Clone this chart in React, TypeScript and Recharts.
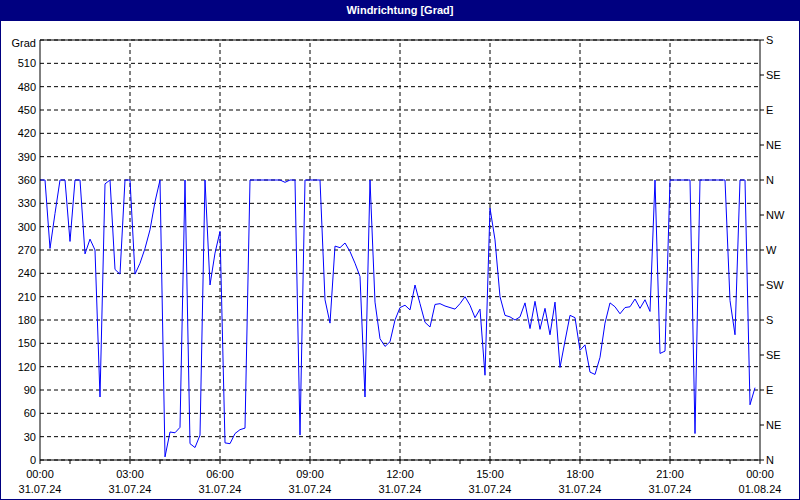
import { LineChart, Line, XAxis, YAxis, CartesianGrid, ReferenceLine } from 'recharts';

// Windrichtung, 10-Minuten-Werte ab 31.07.24 00:00
const windDir = [
  360, 360, 272, 317, 360, 360, 281, 360, 360, 265, 284, 270, 81, 355, 360, 245, 239, 360, 360, 239, 253, 272, 296, 332,
  360, 4, 36, 35, 42, 360, 21, 16, 32, 360, 225, 266, 294, 22, 21, 34, 39, 41, 360, 360, 360, 360, 360, 360,
  360, 357, 360, 360, 32, 360, 360, 360, 360, 206, 176, 275, 273, 279, 268, 253, 236, 81, 360, 203, 156, 146, 152, 180,
  196, 199, 193, 225, 201, 177, 171, 200, 201, 198, 196, 194, 201, 210, 199, 183, 194, 109, 324, 283, 210, 186, 184, 180,
  184, 202, 169, 204, 168, 195, 161, 203, 119, 153, 186, 183, 141, 148, 113, 110, 132, 176, 202, 197, 188, 196, 197, 207,
  195, 206, 191, 360, 137, 140, 360, 360, 360, 360, 360, 34, 360, 360, 360, 360, 360, 360, 205, 161, 360, 360, 71, 93,
];

const gradTicks = [0, 30, 60, 90, 120, 150, 180, 210, 240, 270, 300, 330, 360, 390, 420, 450, 480, 510, 540];
const compassTicks = [0, 45, 90, 135, 180, 225, 270, 315, 360, 405, 450, 495, 540];
const compassLabels = ['N', 'NE', 'E', 'SE', 'S', 'SW', 'W', 'NW', 'N', 'NE', 'E', 'SE', 'S'];

const hourTicks = [
  0, 60, 120, 180, 240, 300, 360, 420, 480, 540, 600, 660, 720, 780, 840, 900, 960, 1020, 1080, 1140, 1200, 1260,
  1320, 1380, 1440,
];
const gridMinutes = [180, 360, 540, 720, 900, 1080, 1260];
const timeLabels = ['00:00', '03:00', '06:00', '09:00', '12:00', '15:00', '18:00', '21:00', '00:00'];
const dateLabels = ['31.07.24', '31.07.24', '31.07.24', '31.07.24', '31.07.24', '31.07.24', '31.07.24', '31.07.24', '01.08.24'];

const FONT = '"Liberation Sans", Arial, sans-serif';
const NAVY = '#000080';

const chartData = windDir.map((v, i) => ({ t: i * 10, dir: v }));

// only every 3 hours gets a label (time + date), the rest are bare tick marks
const TimeTick = ({ x, y, payload }: any) => {
  const v = payload.value as number;
  if (v % 180 !== 0) return null;
  const idx = v / 180;
  return (
    <g>
      <text x={x} y={y} dy={12} textAnchor="middle" fill="#000" fontSize={11} fontFamily={FONT}>
        {timeLabels[idx]}
      </text>
      <text x={x} y={y} dy={27} textAnchor="middle" fill="#000" fontSize={11} fontFamily={FONT}>
        {dateLabels[idx]}
      </text>
    </g>
  );
};

export default function App() {
  const tickStyle = { fill: '#000', fontSize: 11, fontFamily: FONT };

  return (
    <div style={{ position: 'fixed', left: 0, top: 0, width: 800, height: 500, background: '#fff', fontFamily: FONT }}>
      <div style={{ position: 'absolute', left: 0, top: 0 }}>
        <LineChart width={800} height={500} data={chartData} margin={{ top: 40, right: 0, left: 0, bottom: 0 }}>
          <CartesianGrid yAxisId="left" vertical={false} stroke="#000" strokeDasharray="4 3" />
          <XAxis
            dataKey="t"
            type="number"
            domain={[0, 1440]}
            ticks={hourTicks}
            interval={0}
            height={40}
            stroke="#000"
            tickSize={4}
            tickMargin={2}
            tick={<TimeTick />}
          />
          <YAxis
            yAxisId="left"
            domain={[0, 540]}
            ticks={gradTicks}
            interval={0}
            width={40}
            stroke="#000"
            tickSize={0}
            tickMargin={4}
            tick={tickStyle}
            tickFormatter={(v: number) => (v === 540 ? '' : String(v))}
          />
          <YAxis
            yAxisId="right"
            orientation="right"
            type="number"
            domain={[0, 540]}
            allowDataOverflow
            ticks={compassTicks}
            interval={0}
            width={40}
            stroke="#000"
            tickSize={4}
            tickMargin={2}
            tick={tickStyle}
            tickFormatter={(v: number) => compassLabels[compassTicks.indexOf(v)]}
          />
          {gridMinutes.map((m) => (
            <ReferenceLine key={m} x={m} yAxisId="left" stroke="#000" strokeDasharray="4 3" />
          ))}
          <ReferenceLine y={540} yAxisId="left" stroke="#000" />
          <Line
            yAxisId="left"
            type="linear"
            dataKey="dir"
            stroke="#0000ff"
            strokeWidth={1}
            dot={false}
            isAnimationActive={false}
          />
          {/* same values on the compass axis, not drawn; keeps the right axis scale alive */}
          <Line
            yAxisId="right"
            dataKey="dir"
            stroke="none"
            dot={false}
            activeDot={false}
            legendType="none"
            isAnimationActive={false}
          />
        </LineChart>
      </div>
      <div
        style={{
          position: 'absolute',
          left: 0,
          top: 0,
          width: 800,
          height: 21,
          background: NAVY,
          color: '#fff',
          fontSize: 11,
          fontWeight: 'bold',
          lineHeight: '20px',
          textAlign: 'center',
        }}
      >
        Windrichtung [Grad]
      </div>
      <div style={{ position: 'absolute', right: 764, top: 37, fontSize: 11, color: '#000' }}>Grad</div>
      <div
        style={{
          position: 'absolute',
          left: 0,
          top: 0,
          width: 800,
          height: 500,
          boxSizing: 'border-box',
          border: `1px solid ${NAVY}`,
          pointerEvents: 'none',
        }}
      />
    </div>
  );
}
